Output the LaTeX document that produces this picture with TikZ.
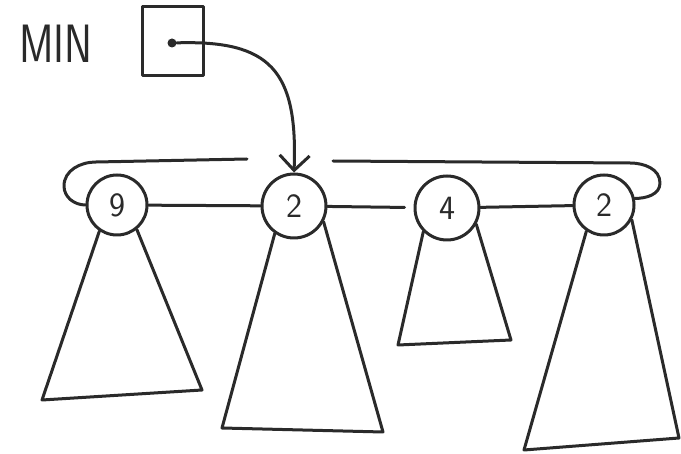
\documentclass[tikz,border=0pt]{standalone}
\usetikzlibrary{arrows.meta}
\definecolor{ink}{HTML}{2A2A2A}
\begin{document}
\begin{tikzpicture}[x=1pt,y=-1pt,
  pen/.style={draw=ink,line width=3pt,line cap=round,line join=round},
  heapnode/.style={pen,circle,inner sep=0pt,minimum size=#1,font=\sffamily\fontsize{34}{34}\selectfont,text=ink},
  tree/.style={pen},
  link/.style={pen},
  ptr/.style={pen,-{Straight Barb[length=15pt,width=30pt,line width=3pt]}}
]
\useasboundingbox (0,0) rectangle (681,454);

% MIN label and pointer box
\node[font=\sffamily\fontsize{54}{54}\selectfont,xscale=0.78,text=ink] (minlabel) at (56,44) {MIN};
\node[pen,rectangle,minimum width=61pt,minimum height=69pt,inner sep=0pt] (box) at (172.5,41.5) {};
\node[circle,fill=ink,inner sep=0pt,minimum size=9pt] (dot) at (172,43) {};

% roots
\node[heapnode=60pt] (c9) at (117,205) {9};
\node[heapnode=64pt] (m2) at (294,206) {2};
\node[heapnode=64pt] (c4) at (447,208) {4};
\node[heapnode=60pt] (c2r) at (604,205) {2};

% pointer arrow
\draw[ptr] (dot) .. controls (270,40) and (298,70) .. (m2.north);

% root list links
\draw[link] (c9) -- (m2);
\draw[link,shorten >=9pt] (m2) -- (c4);
\draw[link] (c4) -- (c2r);

% circular wrap-around
\coordinate (lend) at (247,159);
\coordinate (rstart) at (333,161);
\draw[link] (c9.west) to[out=180,in=270] (64,186) to[out=90,in=180] (96,162) -- (lend);
\draw[link] (rstart) -- (630,163) to[out=0,in=90] (660,183) to[out=270,in=0] (c2r.12);

% subtrees
\coordinate (t9a) at (42,400);  \coordinate (t9b) at (202,390);
\draw[tree] (c9.-124) -- (t9a) -- (t9b) -- (c9.-51);
\coordinate (tma) at (222,428); \coordinate (tmb) at (383,432);
\draw[tree] (m2.-125) -- (tma) -- (tmb) -- (m2.-28);
\coordinate (t4a) at (398,345); \coordinate (t4b) at (511,340);
\draw[tree] (c4.-135) -- (t4a) -- (t4b) -- (c4.-29);
\coordinate (tra) at (524,450); \coordinate (trb) at (679,438);
\draw[tree] (c2r.-124) -- (tra) -- (trb) -- (c2r.-28);
\end{tikzpicture}
\end{document}
